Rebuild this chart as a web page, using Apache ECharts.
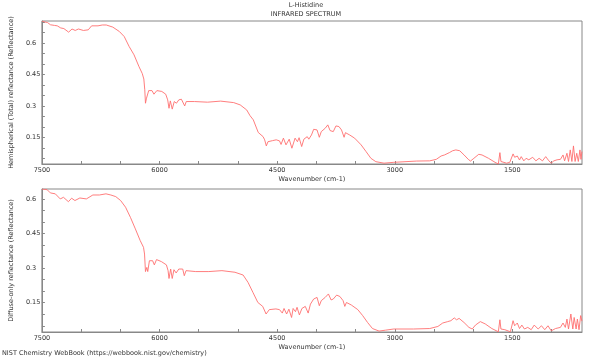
<!DOCTYPE html>
<html>
<head>
<meta charset="utf-8">
<script src="https://cdn.jsdelivr.net/npm/echarts@6/dist/echarts.min.js"></script>
<style>html,body{margin:0;padding:0;background:#fff;}#c{width:600px;height:360px;}</style>
</head>
<body>
<div id="c"></div>
<script>
// ---- data ----
const titleMain = 'L-Histidine';
const titleSub = 'INFRARED SPECTRUM';
const xName = 'Wavenumber (cm-1)';
const yNameTop = 'Hemispherical (Total) reflectance (Reflectance)';
const yNameBottom = 'Diffuse-only reflectance (Reflectance)';
const footer = 'NIST Chemistry WebBook (https://webbook.nist.gov/chemistry)';

const xLabelValues = [1500, 3000, 4500, 6000, 7500];
const xTickValues = [1000, 1500, 2000, 2500, 3000, 3500, 4000, 4500, 5000, 5500, 6000, 6500, 7000, 7500];
const yLabelValues = [0.15, 0.3, 0.45, 0.6];
const yTickValuesTop = [0.05, 0.1, 0.15, 0.2, 0.25, 0.3, 0.35, 0.4, 0.45, 0.5, 0.55, 0.6, 0.65, 0.7];
const yTickValuesBottom = [0.05, 0.1, 0.15, 0.2, 0.25, 0.3, 0.35, 0.4, 0.45, 0.5, 0.55, 0.6];

const topWn = [7500,7460,7430,7390,7340,7304,7260,7241,7220,7200,7159,7116,7075,7034,6971,6909,6866,6784,6730,6679,6596,6512,6450,6388,6325,6263,6220,6200,6188,6179,6166,6154,6138,6096,6071,6034,5971,5921,5896,5879,5862,5838,5812,5784,5754,5721,5700,5679,5659,5554,5388,5221,5054,4971,4888,4846,4804,4741,4679,4659,4638,4617,4560,4512,4470,4450,4420,4387,4346,4312,4271,4241,4220,4187,4159,4116,4096,4062,4034,3991,3962,3937,3887,3854,3825,3784,3750,3712,3679,3646,3629,3575,3512,3429,3366,3304,3241,3137,3012,2721,2554,2471,2409,2366,2304,2262,2221,2200,2171,2116,2062,2034,1991,1929,1887,1804,1721,1679,1659,1646,1575,1533,1512,1491,1471,1437,1409,1387,1354,1325,1290,1241,1200,1159,1116,1075,1034,1004,971,930,887,854,834,804,784,762,741,721,700,679,659,638,625,613];
const topR = [0.705,0.700,0.698,0.687,0.684,0.682,0.672,0.663,0.669,0.667,0.652,0.667,0.660,0.667,0.660,0.663,0.682,0.682,0.686,0.686,0.676,0.655,0.631,0.584,0.544,0.489,0.455,0.429,0.378,0.314,0.338,0.330,0.374,0.374,0.357,0.374,0.370,0.357,0.330,0.290,0.325,0.286,0.322,0.314,0.330,0.333,0.330,0.301,0.322,0.322,0.319,0.324,0.317,0.306,0.282,0.255,0.235,0.175,0.155,0.140,0.111,0.131,0.136,0.140,0.135,0.118,0.148,0.116,0.143,0.100,0.148,0.131,0.150,0.108,0.143,0.155,0.143,0.163,0.190,0.187,0.152,0.179,0.195,0.211,0.184,0.179,0.206,0.203,0.187,0.152,0.174,0.163,0.148,0.116,0.084,0.052,0.036,0.029,0.033,0.039,0.040,0.047,0.063,0.068,0.079,0.088,0.092,0.084,0.088,0.068,0.047,0.039,0.052,0.071,0.068,0.052,0.033,0.025,0.079,0.037,0.029,0.033,0.024,0.073,0.057,0.063,0.044,0.060,0.040,0.052,0.045,0.057,0.040,0.052,0.040,0.060,0.040,0.029,0.040,0.045,0.047,0.068,0.040,0.076,0.037,0.092,0.037,0.111,0.037,0.076,0.037,0.092,0.047,0.084];

const botWn = [7500,7433,7392,7329,7266,7225,7162,7121,7079,7016,6933,6850,6766,6683,6621,6558,6496,6433,6371,6308,6246,6204,6191,6179,6162,6150,6129,6088,6066,6038,5975,5912,5891,5879,5858,5838,5816,5788,5754,5704,5684,5662,5538,5371,5204,5038,4934,4871,4809,4746,4684,4641,4600,4516,4470,4434,4412,4379,4350,4316,4296,4266,4246,4216,4184,4141,4116,4104,4075,4034,3991,3962,3937,3887,3846,3812,3784,3741,3700,3659,3637,3616,3554,3471,3409,3346,3284,3200,3116,3012,2762,2554,2450,2388,2325,2284,2241,2212,2179,2116,2054,2012,1971,1909,1846,1762,1679,1659,1646,1596,1525,1491,1471,1437,1409,1379,1346,1304,1260,1221,1171,1129,1087,1046,1004,950,887,854,825,804,784,754,729,712,687,671,650,629,613];
const botR = [0.643,0.640,0.626,0.622,0.600,0.607,0.588,0.603,0.593,0.604,0.600,0.617,0.617,0.622,0.617,0.610,0.593,0.564,0.520,0.470,0.419,0.390,0.361,0.285,0.303,0.285,0.332,0.332,0.314,0.337,0.328,0.314,0.289,0.255,0.296,0.255,0.293,0.279,0.296,0.296,0.267,0.289,0.285,0.285,0.289,0.282,0.270,0.238,0.195,0.151,0.134,0.101,0.120,0.123,0.120,0.105,0.125,0.101,0.122,0.086,0.125,0.111,0.130,0.097,0.125,0.134,0.140,0.105,0.144,0.166,0.173,0.137,0.159,0.173,0.188,0.162,0.166,0.183,0.177,0.159,0.134,0.151,0.140,0.120,0.094,0.064,0.038,0.027,0.031,0.036,0.036,0.038,0.047,0.062,0.068,0.072,0.084,0.076,0.082,0.064,0.043,0.036,0.053,0.068,0.058,0.038,0.024,0.076,0.036,0.033,0.024,0.072,0.050,0.062,0.038,0.053,0.036,0.043,0.033,0.053,0.036,0.050,0.033,0.050,0.028,0.038,0.043,0.062,0.043,0.079,0.036,0.101,0.036,0.086,0.036,0.079,0.033,0.094,0.070];

// ---- chart ----
const FONT = 'DejaVu Sans';
const TXT = '#333';
const AX = '#888';
const LINE = '#ff6f6f';

function pairs(xs, ys) { return xs.map((x, i) => [x, ys[i]]); }
function fmtY(v) { return String(+(+v).toFixed(2)); }
function fmtX(v) { return String(Math.round(v)); }

function xAxisCfg(gi) {
  return {
    gridIndex: gi, type: 'value', inverse: true, min: 612, max: 7500,
    name: xName, nameLocation: 'middle', nameGap: 12,
    nameTextStyle: { fontFamily: FONT, fontSize: 6.5, color: TXT },
    axisLine: { show: true, lineStyle: { color: AX, width: 1 } },
    axisTick: { show: true, inside: true, length: 3, customValues: xTickValues, lineStyle: { color: AX } },
    axisLabel: { customValues: xLabelValues, formatter: fmtX, fontFamily: FONT, fontSize: 6.5, color: TXT, margin: 3 },
    splitLine: { show: false }
  };
}
function yAxisCfg(gi, min, max, ticks, name) {
  return {
    gridIndex: gi, type: 'value', min: min, max: max,
    name: name, nameLocation: 'middle', nameGap: 25,
    nameTextStyle: { fontFamily: FONT, fontSize: 6.5, color: TXT },
    axisLine: { show: true, lineStyle: { color: AX, width: 1 } },
    axisTick: { show: true, inside: true, length: 3, customValues: ticks, lineStyle: { color: AX } },
    axisLabel: { customValues: yLabelValues, formatter: fmtY, align: 'left', margin: 16, fontFamily: FONT, fontSize: 6.5, color: TXT },
    splitLine: { show: false }
  };
}

const chart = echarts.init(document.getElementById('c'), null, { renderer: 'canvas' });
chart.setOption({
  animation: false,
  backgroundColor: '#fff',
  title: [
    { text: titleMain, left: 306, top: 2, padding: 0, textAlign: 'center', textStyle: { fontFamily: FONT, fontSize: 6.5, fontWeight: 'normal', color: TXT } },
    { text: titleSub, left: 306, top: 11, padding: 0, textAlign: 'center', textStyle: { fontFamily: FONT, fontSize: 6.5, fontWeight: 'normal', color: TXT } },
    { text: footer, left: 2, top: 350, padding: 0, textStyle: { fontFamily: FONT, fontSize: 6.5, fontWeight: 'normal', color: TXT } }
  ],
  grid: [
    { left: 31, right: 18, top: 21, height: 143, show: true, borderColor: AX, borderWidth: 1, backgroundColor: 'transparent' },
    { left: 31, right: 18, top: 189, height: 143, show: true, borderColor: AX, borderWidth: 1, backgroundColor: 'transparent' }
  ],
  xAxis: [xAxisCfg(0), xAxisCfg(1)],
  yAxis: [
    yAxisCfg(0, 0.025, 0.705, yTickValuesTop, yNameTop),
    yAxisCfg(1, 0.023, 0.643, yTickValuesBottom, yNameBottom)
  ],
  series: [
    { type: 'line', xAxisIndex: 0, yAxisIndex: 0, data: pairs(topWn, topR), showSymbol: false, lineStyle: { color: LINE, width: 0.9 }, silent: true },
    { type: 'line', xAxisIndex: 1, yAxisIndex: 1, data: pairs(botWn, botR), showSymbol: false, lineStyle: { color: LINE, width: 0.9 }, silent: true }
  ]
});
</script>
</body>
</html>
